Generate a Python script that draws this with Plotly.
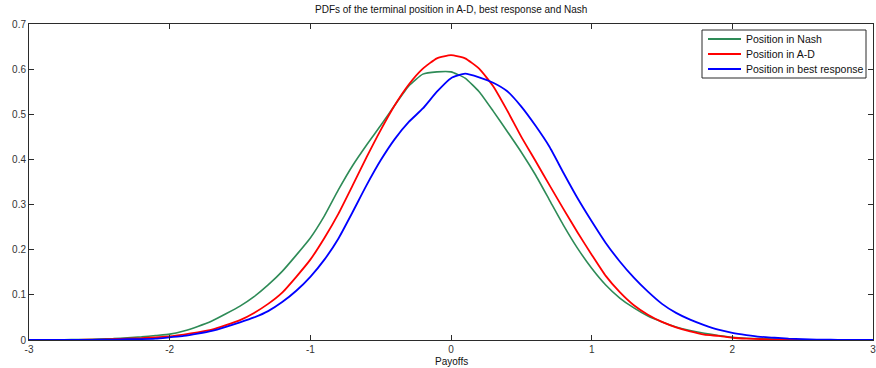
import plotly.graph_objects as go

x_vals = [round(-3 + 0.1 * i, 1) for i in range(61)]

nash = [0.000, 0.000, 0.000, 0.001, 0.001, 0.002, 0.003, 0.005, 0.007, 0.010,
        0.013, 0.020, 0.030, 0.042, 0.058, 0.075, 0.096, 0.122, 0.152, 0.188,
        0.226, 0.275, 0.333, 0.386, 0.432, 0.475, 0.520, 0.563, 0.589, 0.594,
        0.594, 0.580, 0.550, 0.507, 0.462, 0.416, 0.366, 0.310, 0.254, 0.203,
        0.159, 0.122, 0.093, 0.071, 0.053, 0.040, 0.029, 0.021, 0.015, 0.010,
        0.006, 0.004, 0.003, 0.002, 0.001, 0.000, 0.000, 0.000, 0.000, 0.000,
        0.000]

ad = [0.000, 0.000, 0.000, 0.000, 0.001, 0.001, 0.002, 0.003, 0.004, 0.006,
      0.008, 0.012, 0.017, 0.023, 0.033, 0.044, 0.060, 0.080, 0.105, 0.140,
      0.178, 0.226, 0.280, 0.342, 0.405, 0.465, 0.520, 0.566, 0.601, 0.624,
      0.631, 0.624, 0.601, 0.562, 0.508, 0.450, 0.397, 0.343, 0.290, 0.238,
      0.189, 0.142, 0.106, 0.077, 0.056, 0.040, 0.028, 0.019, 0.012, 0.009,
      0.005, 0.003, 0.002, 0.001, 0.001, 0.000, 0.000, 0.000, 0.000, 0.000,
      0.000]

best = [0.000, 0.000, 0.000, 0.000, 0.000, 0.001, 0.001, 0.002, 0.002, 0.003,
        0.006, 0.009, 0.014, 0.020, 0.029, 0.039, 0.050, 0.064, 0.084, 0.109,
        0.140, 0.178, 0.225, 0.283, 0.343, 0.398, 0.445, 0.483, 0.513, 0.550,
        0.580, 0.590, 0.582, 0.570, 0.551, 0.517, 0.475, 0.428, 0.370, 0.314,
        0.263, 0.215, 0.174, 0.138, 0.107, 0.080, 0.060, 0.045, 0.033, 0.023,
        0.016, 0.011, 0.007, 0.005, 0.003, 0.002, 0.001, 0.001, 0.000, 0.000,
        0.000]

series_names = ["Position in Nash", "Position in A-D", "Position in best response"]
series_colors = ["#2E8B57", "#FF0000", "#0000FF"]
series_values = [nash, ad, best]
series_widths = [1.6, 1.8, 1.8]

x_ticks = [-3, -2, -1, 0, 1, 2, 3]
y_ticks = [0, 0.1, 0.2, 0.3, 0.4, 0.5, 0.6, 0.7]

W, H = 876, 368
ML, MR, MT, MB = 29, 3, 24, 28
PW, PH = W - ML - MR, H - MT - MB


def px2paper_x(px):
    return (px - ML) / PW


def px2paper_y(py):
    return (H - MB - py) / PH


fig = go.Figure()
for name, ys, color, w in zip(series_names, series_values, series_colors, series_widths):
    fig.add_trace(go.Scatter(x=x_vals, y=ys, mode="lines", name=name, showlegend=False,
                             line=dict(color=color, width=w, shape="spline", smoothing=0.5)))

font = "Liberation Sans, Arial, sans-serif"
axis_common = dict(showgrid=False, zeroline=False, showline=True, linecolor="#2b2b2b",
                   linewidth=1, mirror="ticks", ticks="inside", ticklen=5,
                   tickcolor="#2b2b2b", automargin=False, ticklabeloverflow="allow",
                   tickfont=dict(family=font, size=10, color="#333333"))

# legend box (drawn as shapes + text)
shapes = [dict(type="rect", xref="paper", yref="paper",
               x0=px2paper_x(702), x1=px2paper_x(866), y0=px2paper_y(78), y1=px2paper_y(30),
               line=dict(color="#2b2b2b", width=1), fillcolor="white", layer="above")]
annotations = [
    dict(text="PDFs of the terminal position in A-D, best response and Nash",
         x=0.5, xref="paper", y=px2paper_y(10), yref="paper", yanchor="middle",
         showarrow=False, font=dict(family=font, size=10, color="#111111")),
    dict(text="Payoffs", x=0.5, xref="paper", y=px2paper_y(361), yref="paper", yanchor="middle",
         showarrow=False, font=dict(family=font, size=10, color="#111111")),
]
row_y = [39, 54, 69]
for name, color, ry in zip(series_names, series_colors, row_y):
    shapes.append(dict(type="line", xref="paper", yref="paper",
                       x0=px2paper_x(708), x1=px2paper_x(741),
                       y0=px2paper_y(ry), y1=px2paper_y(ry),
                       line=dict(color=color, width=1.8), layer="above"))
    annotations.append(dict(text=name, xref="paper", yref="paper",
                            x=px2paper_x(744), y=px2paper_y(ry), xanchor="left", yanchor="middle",
                            showarrow=False, font=dict(family=font, size=10.5, color="#111111")))

fig.update_layout(
    width=W, height=H,
    margin=dict(l=ML, r=MR, t=MT, b=MB),
    paper_bgcolor="white", plot_bgcolor="white",
    xaxis=dict(range=[-3, 3], tickvals=x_ticks, ticktext=[str(v) for v in x_ticks], **axis_common),
    yaxis=dict(range=[0, 0.7], tickvals=y_ticks,
               ticktext=["0", "0.1", "0.2", "0.3", "0.4", "0.5", "0.6", "0.7"], **axis_common),
    showlegend=False,
    shapes=shapes,
    annotations=annotations,
)

fig.write_html("out.html", config={"displayModeBar": False},
               post_script="document.body.style.margin='0';document.body.style.padding='0';")
